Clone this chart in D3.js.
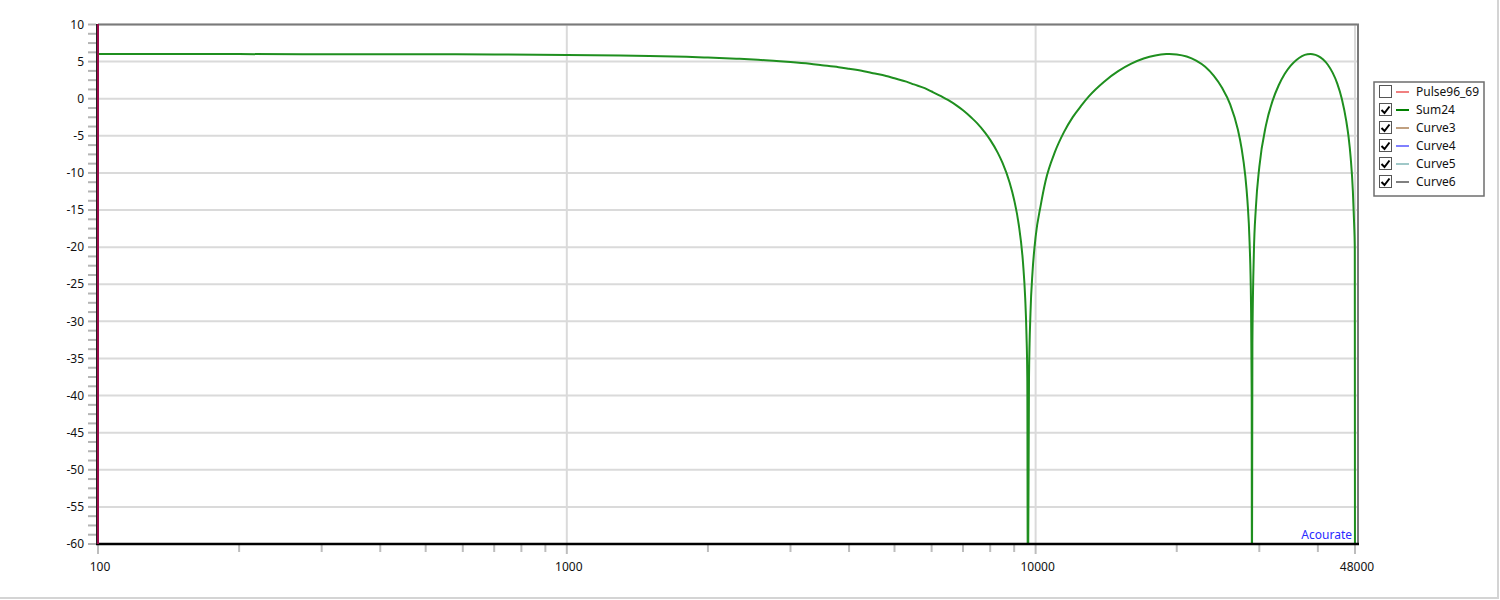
<!DOCTYPE html>
<html><head><meta charset="utf-8">
<script src="https://cdn.jsdelivr.net/npm/d3@7"></script>
<style>
html,body{margin:0;padding:0;background:#fff;}
svg{display:block;font-family:"Noto Sans","Open Sans",sans-serif;}
</style></head>
<body><svg id="chart" width="1500" height="600"></svg>
<script>
// ---- data ----
const freqs = [100,200,300,500,700,1000,1300,1500,1800,2000,2300,2500,2800,3000,3300,3500,3800,4000,4300,4500,4800,5000,5300,5500,5800,6000,6300,6500,6800,7000,7300,7500,7800,8000,8300,8500,8800,9000,9200,9400,9500,9560,9600,9625,9680,9750,9850,10000,10250,10500,11000,11500,12000,12500,13000,14000,15000,16000,17000,18000,19000,19300,20000,21000,22000,23000,24000,25000,26000,27000,27500,28000,28300,28600,28800,28900,28930,29000,29200,29500,30000,31000,32000,33000,34000,35000,36000,37000,38000,38600,39000,40000,41000,42000,43000,44000,45000,46000,46500,47000,47500,47800,47950,48000];
const sum24 = [6.02,6.01,6.0,5.99,5.96,5.9,5.82,5.76,5.65,5.55,5.39,5.28,5.07,4.94,4.71,4.52,4.25,4.03,3.7,3.44,3.07,2.75,2.3,1.93,1.42,0.97,0.3,-0.17,-0.97,-1.56,-2.57,-3.29,-4.58,-5.55,-7.27,-8.66,-11.29,-13.64,-16.88,-22.14,-26.82,-31.7,-37.7,-70,-37.6,-28.9,-23.3,-18.6,-14.4,-11.08,-7.14,-4.47,-2.48,-0.97,0.35,2.3,3.71,4.72,5.41,5.83,6.01,6.02,5.96,5.68,5.13,4.3,3.07,1.44,-0.75,-4.15,-6.68,-10.37,-13.74,-19.34,-27.4,-39.9,-70,-32.94,-21.16,-14.66,-9.21,-3.56,-0.33,1.81,3.36,4.47,5.23,5.75,5.99,6.02,5.99,5.78,5.31,4.58,3.51,2.04,-0.03,-3.06,-5.11,-8.0,-12.43,-16.94,-20.0,-70];
const xTickLabels = [100,1000,10000,48000];
const xMinorTicks = [200,300,400,500,600,700,800,900,2000,3000,4000,5000,6000,7000,8000,9000,20000,30000,40000];
const yTickLabels = [10,5,0,-5,-10,-15,-20,-25,-30,-35,-40,-45,-50,-55,-60];
const legendNames = ["Pulse96_69","Sum24","Curve3","Curve4","Curve5","Curve6"];
const legendChecked = [false,true,true,true,true,true];
const legendColors = ["#f08080","#008000","#c0a080","#8080ff","#a0c8c8","#808080"];

// ---- layout ----
const svg = d3.select("#chart");
const L = 98, R = 1355, T = 24.5, B = 544;
const x = d3.scaleLog().domain([100,48000]).range([L,R]);
const y = d3.scaleLinear().domain([-60,10]).range([B,T]);

// outer frame
svg.append("line").attr("x1",0).attr("x2",1498).attr("y1",598).attr("y2",598).attr("stroke","#d4d4d4").attr("stroke-width",2);
svg.append("line").attr("x1",1498).attr("x2",1498).attr("y1",0).attr("y2",599).attr("stroke","#d4d4d4").attr("stroke-width",2);

// grid
const grid = svg.append("g");
yTickLabels.forEach(v=>{
  grid.append("line").attr("x1",L).attr("x2",1357).attr("y1",y(v)).attr("y2",y(v))
    .attr("stroke","#dadada").attr("stroke-width",2);
});
xTickLabels.forEach(v=>{
  grid.append("line").attr("x1",x(v)).attr("x2",x(v)).attr("y1",T).attr("y2",B)
    .attr("stroke","#dadada").attr("stroke-width",2);
});

// y ticks (major + minor every 1.25)
const yt = svg.append("g");
d3.range(-60,10.001,1.25).forEach(v=>{
  yt.append("line").attr("x1",88).attr("x2",96).attr("y1",y(v)).attr("y2",y(v))
    .attr("stroke","#b4b4b4").attr("stroke-width",2);
});
yTickLabels.forEach(v=>{
  yt.append("text").attr("x",84).attr("y",y(v)).attr("dy","0.35em").attr("text-anchor","end")
    .attr("font-size",12).attr("fill","#111").text(v);
});

// x ticks
const xt = svg.append("g");
xMinorTicks.forEach(v=>{
  xt.append("line").attr("x1",x(v)).attr("x2",x(v)).attr("y1",B).attr("y2",552)
    .attr("stroke","#bdbdbd").attr("stroke-width",2);
});
xTickLabels.forEach(v=>{
  xt.append("line").attr("x1",x(v)).attr("x2",x(v)).attr("y1",B).attr("y2",554)
    .attr("stroke","#bdbdbd").attr("stroke-width",2);
  xt.append("text").attr("x",x(v)+2).attr("y",567).attr("dy","0.35em").attr("text-anchor","middle")
    .attr("font-size",12).attr("fill","#111").text(v);
});

// clip
svg.append("clipPath").attr("id","clip").append("rect").attr("x",L).attr("y",T).attr("width",1358-L).attr("height",B-T);

// curve
const pts = freqs.map((f,i)=>[f,sum24[i]]);
const line = d3.line().x(d=>x(d[0])).y(d=>y(d[1])).curve(d3.curveMonotoneX);
svg.append("path").attr("clip-path","url(#clip)").datum(pts).attr("d",line)
  .attr("fill","none").attr("stroke","#1f8f1f").attr("stroke-width",2);

// borders
svg.append("line").attr("x1",L).attr("x2",1359).attr("y1",24.5).attr("y2",24.5).attr("stroke","#7a7a7a").attr("stroke-width",2);
svg.append("line").attr("x1",1358).attr("x2",1358).attr("y1",24).attr("y2",B).attr("stroke","#7a7a7a").attr("stroke-width",2);
svg.append("line").attr("x1",96).attr("x2",1359).attr("y1",B).attr("y2",B).attr("stroke","#000").attr("stroke-width",2.5);
svg.append("line").attr("x1",96.5).attr("x2",96.5).attr("y1",24).attr("y2",B).attr("stroke","#222").attr("stroke-width",1);
svg.append("line").attr("x1",98).attr("x2",98).attr("y1",24).attr("y2",B).attr("stroke","#9a0a4a").attr("stroke-width",2);

// Acourate label
svg.append("text").attr("x",1352).attr("y",539).attr("text-anchor","end").attr("font-size",12)
  .attr("fill","#2a2aff").text("Acourate");

// legend
const lg = svg.append("g");
lg.append("rect").attr("x",1374).attr("y",82).attr("width",110).attr("height",114)
  .attr("fill","#fff").attr("stroke","#6e6e6e").attr("stroke-width",1.5);
legendNames.forEach((n,i)=>{
  const cy = 92 + i*18;
  lg.append("rect").attr("x",1379.5).attr("y",cy-6.5).attr("width",12).attr("height",12)
    .attr("fill","#fff").attr("stroke","#555").attr("stroke-width",1);
  if(legendChecked[i]){
    lg.append("path").attr("d",`M${1381.5},${cy} L${1384.5},${cy+3} L${1389.5},${cy-3.5}`)
      .attr("fill","none").attr("stroke","#000").attr("stroke-width",2);
  }
  lg.append("line").attr("x1",1396).attr("x2",1409).attr("y1",cy).attr("y2",cy)
    .attr("stroke",legendColors[i]).attr("stroke-width",2);
  lg.append("text").attr("x",1416).attr("y",cy).attr("dy","0.35em").attr("font-size",12)
    .attr("fill","#111").text(n);
});
</script></body></html>
